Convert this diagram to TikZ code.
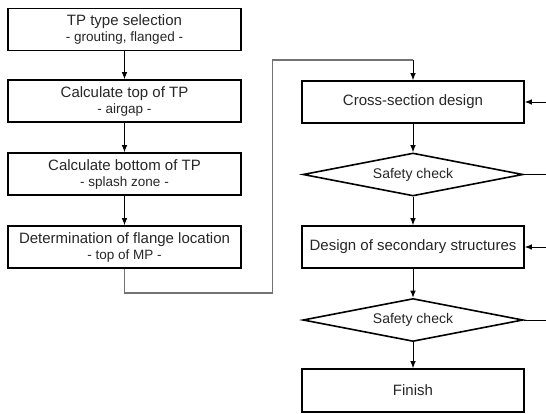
\documentclass[tikz,border=0pt]{standalone}
\usepackage{fontspec}
\setmainfont{Liberation Sans}
\usetikzlibrary{shapes.geometric,arrows.meta}
\tikzset{
  box/.style={draw, line width=1.6pt, minimum height=42pt, inner sep=0pt, align=center, text=black!85,
    font=\fontsize{15}{17}\selectfont},
  lbox/.style={box, minimum width=233pt},
  rbox/.style={box, minimum width=222pt},
  dia/.style={draw, line width=1.6pt, diamond, shape aspect=5, inner sep=0pt, minimum width=220pt,
    minimum height=43pt, text=black!85, font=\fontsize{14}{16}\selectfont},
  conn/.style={line width=0.9pt, -{Latex[length=7pt,width=5.5pt]}},
  plain/.style={line width=0.9pt},
  sub/.style={font=\fontsize{13.5}{16}\selectfont}
}
\newcommand{\subtxt}[1]{{\fontsize{13.5}{16}\selectfont #1}}
\begin{document}
\begin{tikzpicture}[x=1pt,y=-1pt]
\useasboundingbox (0,0) rectangle (546,414);
% left column
\node[lbox] (b1) at (124.5,29.5) {TP type selection\\[-1pt]\subtxt{- grouting, flanged -}};
\node[lbox] (b2) at (124.5,101) {Calculate top of TP\\[-1pt]\subtxt{- airgap -}};
\node[lbox] (b3) at (124.5,174) {Calculate bottom of TP\\[-1pt]\subtxt{- splash zone -}};
\node[lbox] (b4) at (124.5,247) {Determination of flange location\\[-1pt]\subtxt{- top of MP -}};
% right column
\node[rbox] (b5) at (413,102) {Cross-section design};
\node[dia] (d1) at (413,174.5) {Safety check};
\node[rbox] (b6) at (413,247) {Design of secondary structures};
\node[dia] (d2) at (413,320) {Safety check};
\node[rbox, minimum height=43pt] (fin) at (413,390.5) {Finish};
% left connectors
\draw[conn] (b1) -- (b2);
\draw[conn] (b2) -- (b3);
\draw[conn] (b3) -- (b4);
% link between columns
\coordinate (k1) at (124.5,293);
\coordinate (k2) at (272.5,293);
\coordinate (k3) at (272.5,60);
\coordinate (k4) at (413,60);
\draw[line width=1.1pt, black!55] (b4.south) -- (k1) -- (k2) -- (k3) -- (k4);
\draw[conn] (k4) -- (b5.north);
% right column connectors
\draw[conn] (b5) -- (d1);
\draw[conn] (d1) -- (b6);
\draw[conn] (b6) -- (d2);
\draw[conn] (d2) -- (fin);
% feedback stubs at right edge
\coordinate (r1) at (546,102);
\coordinate (r2) at (546,174.5);
\coordinate (r3) at (546,247);
\coordinate (r4) at (546,320);
\draw[conn] (r1) -- (b5.east);
\draw[plain] (d1.east) -- (r2);
\draw[conn] (r3) -- (b6.east);
\draw[plain] (d2.east) -- (r4);
\end{tikzpicture}
\end{document}
